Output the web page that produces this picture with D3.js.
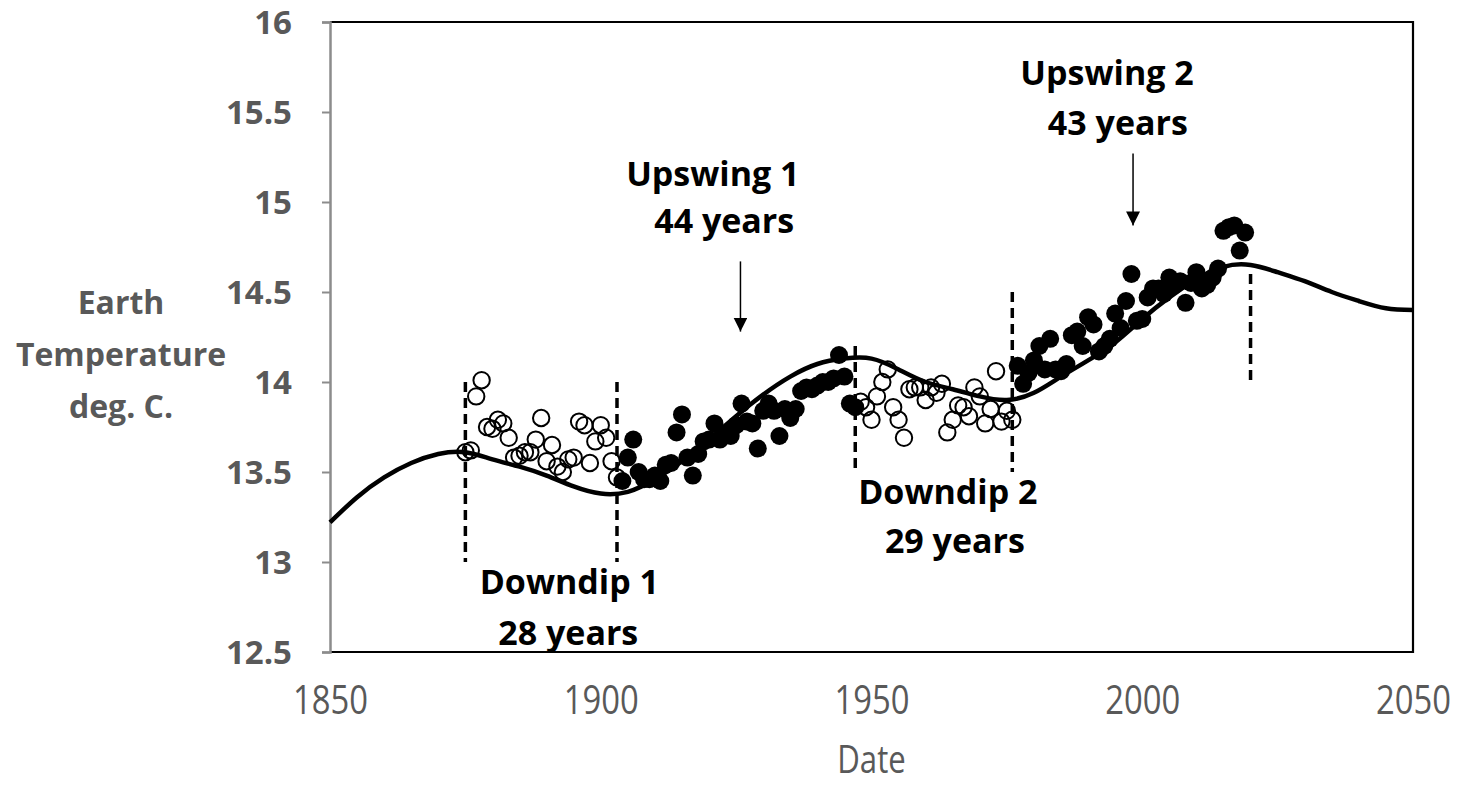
<!DOCTYPE html>
<html><head><meta charset="utf-8">
<script src="https://cdn.jsdelivr.net/npm/d3@7"></script>
<style>body{margin:0;background:#fff;} svg{display:block}</style>
</head><body><svg id="c" width="1478" height="787"></svg>
<script>
// ---------- data ----------
const xTickValues = [1850, 1900, 1950, 2000, 2050];
const xTickLabels = ["1850", "1900", "1950", "2000", "2050"];
const yTickValues = [12.5, 13, 13.5, 14, 14.5, 15, 15.5, 16];
const yTickLabels = ["12.5", "13", "13.5", "14", "14.5", "15", "15.5", "16"];

// open circles (downdip periods)
const openYears = [1875,1876,1877,1878,1879,1880,1881,1882,1883,1884,1885,1886,1887,1888,1889,1890,1891,1892,1893,1894,1895,1896,1897,1898,1899,1900,1901,1902,1903,
  1948,1949,1950,1951,1952,1953,1954,1955,1956,1957,1958,1959,1960,1961,1962,1963,1964,1965,1966,1967,1968,1969,1970,1971,1972,1973,1974,1975,1976];
const openTemps = [13.61,13.62,13.92,14.01,13.75,13.74,13.79,13.77,13.69,13.58,13.59,13.61,13.61,13.68,13.80,13.56,13.65,13.53,13.50,13.57,13.58,13.78,13.76,13.55,13.67,13.76,13.69,13.56,13.47,
  13.89,13.86,13.79,13.92,14.00,14.07,13.86,13.79,13.69,13.96,13.97,13.97,13.90,13.97,13.94,13.99,13.72,13.79,13.87,13.86,13.81,13.97,13.92,13.77,13.85,14.06,13.78,13.84,13.79];

// filled circles (upswing periods)
const filledYears = [1904,1905,1906,1907,1908,1909,1910,1911,1912,1913,1914,1915,1916,1917,1918,1919,1920,1921,1922,1923,1924,1925,1926,1927,1928,1929,1930,1931,1932,1933,1934,1935,1936,1937,1938,1939,1940,1941,1942,1943,1944,1945,1946,1947,
  1977,1978,1979,1980,1981,1982,1983,1984,1985,1986,1987,1988,1989,1990,1991,1992,1993,1994,1995,1996,1997,1998,1999,2000,2001,2002,2003,2004,2005,2006,2007,2008,2009,2010,2011,2012,2013,2014,2015,2016,2017,2018,2019];
const filledTemps = [13.45,13.58,13.68,13.50,13.46,13.46,13.48,13.45,13.54,13.55,13.72,13.82,13.58,13.48,13.60,13.67,13.68,13.77,13.68,13.71,13.70,13.76,13.88,13.78,13.77,13.63,13.84,13.88,13.84,13.70,13.85,13.80,13.85,13.95,13.97,13.96,13.98,14.00,14.00,14.02,14.15,14.03,13.88,13.86,
  14.09,13.99,14.05,14.12,14.20,14.07,14.24,14.07,14.06,14.10,14.26,14.28,14.20,14.36,14.32,14.17,14.20,14.24,14.38,14.30,14.45,14.60,14.34,14.35,14.47,14.52,14.52,14.49,14.58,14.54,14.56,14.44,14.55,14.61,14.52,14.54,14.58,14.63,14.84,14.86,14.87,14.73,14.83];

// smooth cycle curve
const curveYears = [1850,1855,1860,1865,1870,1875,1880,1885,1890,1895,1900,1905,1910,1915,1920,1925,1930,1935,1940,1945,1950,1955,1960,1965,1970,1975,1980,1985,1990,1995,2000,2005,2010,2015,2020,2025,2030,2035,2040,2045,2050];
const curveTemps = [13.22,13.36,13.47,13.55,13.60,13.61,13.57,13.53,13.48,13.42,13.38,13.39,13.46,13.56,13.68,13.81,13.93,14.03,14.10,14.13,14.13,14.07,14.00,13.96,13.92,13.90,13.94,14.03,14.12,14.22,14.35,14.47,14.57,14.64,14.65,14.61,14.56,14.50,14.45,14.41,14.40];

// dashed period boundaries
const boundaryYears = [1875, 1903, 1947, 1976, 2020];
const boundaryLow   = [13.0, 13.0, 13.5, 13.5, 14.0];
const boundaryHigh  = [14.0, 14.0, 14.2, 14.5, 14.6];

// annotations
const noteLines = ["Upswing 1", "44 years", "Upswing 2", "43 years", "Downdip 1", "28 years", "Downdip 2", "29 years"];
const noteYears = [1920.7, 1922.8, 1993.5, 1995.5, 1894.2, 1894.0, 1964.1, 1965.4];
const noteTemps = [15.09, 14.83, 15.65, 15.37, 12.82, 12.54, 13.32, 13.05];

const arrowYears = [1925.8, 1998.3];
const arrowFrom  = [14.67, 15.27];
const arrowTo    = [14.28, 14.87];

// ---------- layout ----------
const W = 1478, H = 787;
const m = {left: 330, right: 65, top: 22, bottom: 135};
const svg = d3.select("#c");
const x = d3.scaleLinear().domain([1850, 2050]).range([m.left, W - m.right]);
const y = d3.scaleLinear().domain([12.5, 16]).range([H - m.bottom, m.top]);
const gray = "#595959";
const font = "'Open Sans', sans-serif";

// plot frame (top, right, bottom)
svg.append("path")
  .attr("d", `M${x(1850)},${y(16)}H${x(2050)}V${y(12.5)}H${x(1850)}`)
  .attr("fill", "none").attr("stroke", "#000").attr("stroke-width", 2.2);

// y axis
const yAxis = svg.append("g").attr("transform", `translate(${x(1850)},0)`)
  .call(d3.axisLeft(y).tickValues(yTickValues).tickFormat((d, i) => yTickLabels[i]).tickSize(8).tickPadding(30));
yAxis.select(".domain").attr("stroke", "#8c8c8c").attr("stroke-width", 2.5);
yAxis.selectAll(".tick line").attr("stroke", "#8c8c8c").attr("stroke-width", 2);
yAxis.selectAll(".tick text").attr("fill", gray).attr("dy", "0.36em")
  .style("font-family", font).style("font-weight", "bold").style("font-size", "33px");

// x axis
const xAxis = svg.append("g").attr("transform", `translate(0,${y(12.5)})`)
  .call(d3.axisBottom(x).tickValues(xTickValues).tickFormat((d, i) => xTickLabels[i]).tickSize(0).tickPadding(34));
xAxis.select(".domain").remove();
xAxis.selectAll(".tick text").attr("fill", gray).attr("transform", "scale(0.82,1)")
  .style("font-family", font).style("font-size", "40px");

// axis titles
svg.append("text").attr("transform", `translate(${x(1950)},773) scale(0.82,1)`).attr("text-anchor", "middle")
  .attr("fill", gray).style("font-family", font).style("font-size", "38px")
  .text("Date");
const yTitle = ["Earth", "Temperature", "deg. C."];
svg.append("g").selectAll("text").data(yTitle).join("text")
  .attr("x", 121).attr("y", (d, i) => 314 + i * 52).attr("text-anchor", "middle")
  .attr("fill", gray).style("font-family", font).style("font-weight", "bold").style("font-size", "32px")
  .text(d => d);

// points
const openPts = openYears.map((d, i) => [d, openTemps[i]]);
const filledPts = filledYears.map((d, i) => [d, filledTemps[i]]);
svg.append("g").selectAll("circle").data(openPts).join("circle")
  .attr("cx", d => x(d[0])).attr("cy", d => y(d[1])).attr("r", 8.2)
  .attr("fill", "none").attr("stroke", "#000").attr("stroke-width", 2);
svg.append("g").selectAll("circle").data(filledPts).join("circle")
  .attr("cx", d => x(d[0])).attr("cy", d => y(d[1])).attr("r", 9)
  .attr("fill", "#000");

// curve
const cpts = curveYears.map((d, i) => [d, curveTemps[i]]);
svg.append("path").datum(cpts)
  .attr("d", d3.line().x(d => x(d[0])).y(d => y(d[1])).curve(d3.curveNatural))
  .attr("fill", "none").attr("stroke", "#000").attr("stroke-width", 4.5);

// dashed boundaries
svg.append("g").selectAll("line").data(boundaryYears).join("line")
  .attr("x1", d => x(d)).attr("x2", d => x(d))
  .attr("y1", (d, i) => y(boundaryHigh[i])).attr("y2", (d, i) => y(boundaryLow[i]))
  .attr("stroke", "#000").attr("stroke-width", 3.5).attr("stroke-dasharray", "10,6");

// arrows
svg.append("defs").append("marker").attr("id", "ah")
  .attr("viewBox", "0 0 10 10").attr("refX", 10).attr("refY", 5)
  .attr("markerWidth", 14).attr("markerHeight", 14).attr("markerUnits", "userSpaceOnUse").attr("orient", "auto")
  .append("path").attr("d", "M0,0L10,5L0,10Z").attr("fill", "#000");
svg.append("g").selectAll("line").data(arrowYears).join("line")
  .attr("x1", d => x(d)).attr("x2", d => x(d))
  .attr("y1", (d, i) => y(arrowFrom[i])).attr("y2", (d, i) => y(arrowTo[i]))
  .attr("stroke", "#000").attr("stroke-width", 1.5).attr("marker-end", "url(#ah)");

// annotation text
svg.append("g").selectAll("text").data(noteLines).join("text")
  .attr("x", (d, i) => x(noteYears[i])).attr("y", (d, i) => y(noteTemps[i]))
  .attr("text-anchor", "middle").attr("fill", "#000")
  .style("font-family", font).style("font-weight", "bold").style("font-size", "34px")
  .text(d => d);
</script></body></html>
